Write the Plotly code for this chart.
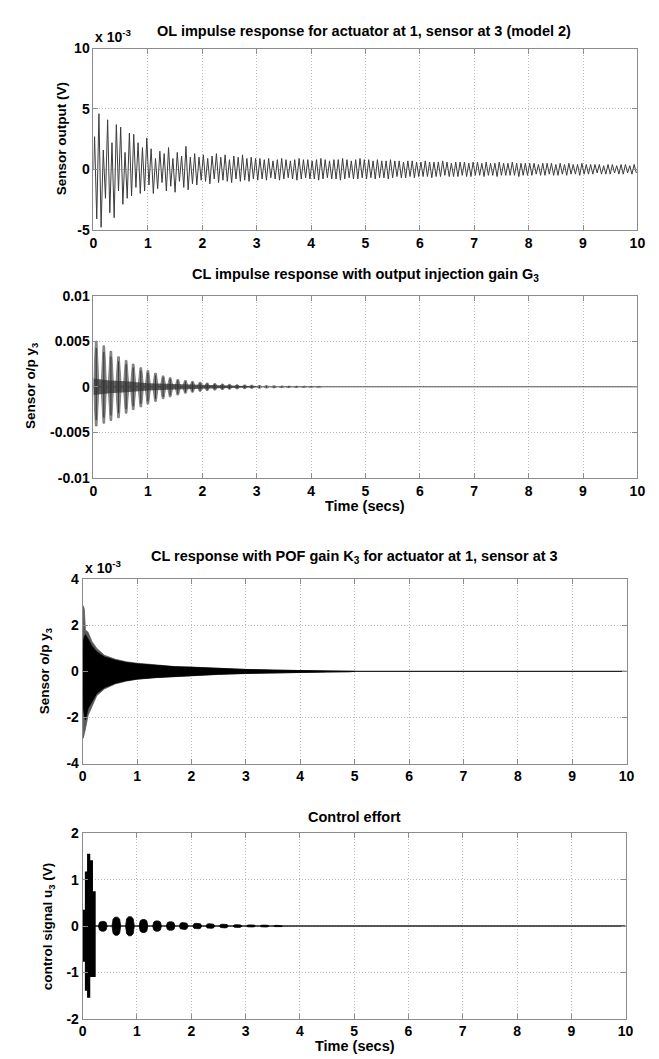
import numpy as np
import plotly.graph_objects as go

W, H = 659, 1059

# ---------------- data ----------------
# Plot 1: OL impulse response, alternating peaks (units of 1e-3 V), one pair every 0.08 s
ol_up = [2.7, 4.6, 1.6, 4.1, 2.2, 3.7, 3.5, 1.4, 3.0, 2.9, 2.2, 1.8, 2.6,
         1.7, 0.9, 1.5, 1.3, 1.8, 0.9, 1.4, 1.1, 1.9, 1.0, 1.3, 1.0,
         1.2, 0.9, 1.1, 1.3, 1.0, 1.2, 0.8, 1.1, 1.0, 1.2, 0.9, 1.0, 0.9,
         0.9, 0.8, 0.9, 0.7, 0.8, 0.9, 0.8, 0.7, 0.8, 0.9, 0.8, 0.8, 0.7, 0.8, 0.9, 0.8, 0.7, 0.8, 0.8, 0.9, 0.8, 0.7, 0.8, 0.9, 0.8,
         0.8, 0.7, 0.8, 0.7, 0.7, 0.8, 0.7, 0.7, 0.6, 0.7, 0.7, 0.6,
         0.6, 0.7, 0.6, 0.6, 0.6, 0.7, 0.6, 0.5, 0.6, 0.6, 0.6, 0.5, 0.6,
         0.6, 0.5, 0.6, 0.5, 0.5, 0.6, 0.5, 0.5, 0.6, 0.5, 0.5, 0.5,
         0.5, 0.5, 0.4, 0.5, 0.5, 0.5, 0.4, 0.5, 0.4, 0.5, 0.4, 0.4, 0.5,
         0.4, 0.4, 0.4, 0.4, 0.3, 0.4, 0.4, 0.3, 0.4, 0.4, 0.3, 0.4]
ol_dn = [-4.1, -4.8, -2.4, -3.6, -4.0, -1.8, -2.9, -2.4, -2.2, -1.5, -2.0, -1.8, -1.3,
         -2.0, -1.6, -1.1, -1.8, -1.4, -1.9, -1.0, -1.5, -1.7, -1.2, -1.3, -0.9,
         -1.0, -1.2, -0.8, -1.1, -0.9, -1.0, -1.1, -0.8, -1.0, -0.9, -1.0, -0.8, -0.9,
         -0.8, -0.9, -0.7, -0.8, -0.9, -0.8, -0.7, -0.8, -0.9, -0.8, -0.7, -0.8, -0.8, -0.9, -0.8, -0.7, -0.8, -0.8, -0.9, -0.8, -0.7, -0.8, -0.8, -0.7, -0.8,
         -0.7, -0.8, -0.7, -0.7, -0.8, -0.7, -0.6, -0.7, -0.7, -0.6, -0.7, -0.6,
         -0.6, -0.6, -0.7, -0.6, -0.6, -0.5, -0.6, -0.6, -0.6, -0.5, -0.6, -0.6, -0.5,
         -0.5, -0.6, -0.5, -0.5, -0.6, -0.5, -0.5, -0.5, -0.5, -0.6, -0.5, -0.5,
         -0.5, -0.4, -0.5, -0.5, -0.4, -0.5, -0.5, -0.4, -0.5, -0.4, -0.4, -0.5, -0.4,
         -0.4, -0.4, -0.3, -0.4, -0.4, -0.4, -0.3, -0.4, -0.4, -0.3, -0.4, -0.3]
ol_step = 0.08

# Plot 2: CL impulse response with output injection - beat lobes (V)
cl_lobe_t = [0.05, 0.19, 0.32, 0.46, 0.60, 0.73, 0.87, 1.00, 1.14, 1.28, 1.41, 1.55,
             1.69, 1.82, 1.96, 2.09, 2.23, 2.37, 2.50, 2.64, 2.78, 2.91, 3.05, 3.18,
             3.32, 3.46, 3.59, 3.73, 3.87, 4.00, 4.14]
cl_lobe_up = [0.0050, 0.0045, 0.0039, 0.0033, 0.0029, 0.0025, 0.0021, 0.0018, 0.0015,
              0.0012, 0.0010, 0.0008, 0.0007, 0.0006, 0.0005, 0.00042, 0.00036, 0.00031,
              0.00027, 0.00023, 0.0002, 0.00017, 0.00015, 0.00013, 0.00011, 0.0001,
              0.00009, 0.00008, 0.00007, 0.00006, 0.00005]
cl_lobe_dn = [-0.0043, -0.0040, -0.0037, -0.0034, -0.0029, -0.0025, -0.0022, -0.0019,
              -0.0016, -0.0013, -0.0011, -0.0009, -0.0007, -0.0006, -0.0005, -0.00042,
              -0.00036, -0.00031, -0.00027, -0.00023, -0.0002, -0.00017, -0.00015,
              -0.00013, -0.00011, -0.0001, -0.00009, -0.00008, -0.00007, -0.00006, -0.00005]
cl_core_t = [0.0, 0.3, 0.6, 1.0, 1.5, 2.0, 2.5, 3.0]
cl_core_amp = [0.0009, 0.0007, 0.0006, 0.0004, 0.0003, 0.0002, 0.0001, 0.00005]

# Plot 3: CL response with POF gain - envelopes (units of 1e-3 V)
pof_t = [0.0, 0.01, 0.03, 0.05, 0.1, 0.17, 0.26, 0.4, 0.6, 0.8, 1.0, 1.35, 1.7, 2.0,
         2.5, 3.0, 3.5, 4.0, 4.5, 4.9, 5.0]
pof_up_outer = [0.0, 2.85, 2.7, 1.8, 1.7, 1.3, 1.0, 0.7, 0.53, 0.42, 0.36, 0.27, 0.21,
                0.19, 0.13, 0.09, 0.06, 0.04, 0.025, 0.012, 0.0]
pof_dn_outer = [0.0, -2.9, -2.7, -2.5, -1.9, -1.55, -1.05, -0.76, -0.54, -0.42, -0.34,
                -0.27, -0.21, -0.19, -0.13, -0.09, -0.06, -0.04, -0.025, -0.012, 0.0]
pof_up_inner = [0.0, 1.3, 1.5, 1.6, 1.4, 1.1, 0.85, 0.63, 0.49, 0.39, 0.33, 0.26, 0.2,
                0.18, 0.12, 0.085, 0.058, 0.038, 0.022, 0.011, 0.0]
pof_dn_inner = [0.0, -1.5, -1.9, -2.1, -1.6, -1.3, -0.95, -0.7, -0.51, -0.4, -0.33,
                -0.26, -0.2, -0.18, -0.12, -0.085, -0.058, -0.038, -0.022, -0.011, 0.0]

# Plot 4: control effort (V)
u_spike_t = [0.02, 0.035, 0.07, 0.11, 0.16, 0.21]
u_spike_up = [0.35, 0.1, 1.18, 1.56, 1.42, 0.75]
u_spike_dn = [-0.2, -0.77, -1.4, -1.55, -1.1, -1.1]
u_lobe_t = [0.37, 0.62, 0.87, 1.12, 1.37, 1.62, 1.86, 2.11, 2.35, 2.60, 2.85, 3.10, 3.35, 3.60]
u_lobe_up = [0.10, 0.19, 0.20, 0.14, 0.11, 0.09, 0.075, 0.06, 0.05, 0.04, 0.03, 0.025, 0.02, 0.015]
u_lobe_dn = [-0.11, -0.20, -0.21, -0.14, -0.11, -0.09, -0.075, -0.06, -0.05, -0.04, -0.03, -0.02, -0.02, -0.015]

x_ticks = list(range(0, 11))

# ---------------- helpers ----------------
def fx(p):
    return p / W

def fy(p):
    return 1 - p / H

fig = go.Figure()

# Plot 1 zigzag
xs, ys = [0.0], [0.0]
for k, (u, d) in enumerate(zip(ol_up, ol_dn)):
    t0 = k * ol_step
    xs += [t0 + ol_step * 0.25, t0 + ol_step * 0.75]
    ys += [u, d]
fig.add_trace(go.Scatter(x=xs, y=ys, mode="lines", line=dict(color="#3c3c3c", width=1),
                         xaxis="x", yaxis="y", hoverinfo="skip"))

# Plot 2: zero line, core band, lobes
fig.add_trace(go.Scatter(x=[0, 10], y=[0, 0], mode="lines", line=dict(color="#555", width=1),
                         xaxis="x2", yaxis="y2", hoverinfo="skip"))
lx, ly, sx, sy = [], [], [], []
hw = 0.05
for t, u, d in zip(cl_lobe_t, cl_lobe_up, cl_lobe_dn):
    lx += [t - hw, t - 0.3 * hw, t + 0.3 * hw, t + hw, t + 0.3 * hw, t - 0.3 * hw, t - hw, None]
    ly += [0, u, u, 0, d, d, 0, None]
    sx += [t, t, None]
    sy += [u * 0.85, d * 0.85, None]
fig.add_trace(go.Scatter(x=lx, y=ly, fill="toself", fillcolor="#8e8e8e", mode="lines",
                         line=dict(color="#707070", width=0.8), xaxis="x2", yaxis="y2",
                         hoverinfo="skip"))
fig.add_trace(go.Scatter(x=sx, y=sy, mode="lines", line=dict(color="#3a3a3a", width=1.2),
                         xaxis="x2", yaxis="y2", hoverinfo="skip"))
fig.add_trace(go.Scatter(x=cl_core_t + cl_core_t[::-1],
                         y=cl_core_amp + [-a for a in cl_core_amp[::-1]],
                         fill="toself", fillcolor="rgba(50,50,50,0.75)", line=dict(width=0),
                         mode="lines", xaxis="x2", yaxis="y2", hoverinfo="skip"))

# Plot 3: zero line and bands
fig.add_trace(go.Scatter(x=[0, 10], y=[0, 0], mode="lines", line=dict(color="#222", width=1.2),
                         xaxis="x3", yaxis="y3", hoverinfo="skip"))
fig.add_trace(go.Scatter(x=pof_t + pof_t[::-1], y=pof_up_outer + pof_dn_outer[::-1],
                         fill="toself", fillcolor="#5a5a5a", line=dict(color="#5a5a5a", width=0.8),
                         mode="lines", xaxis="x3", yaxis="y3", hoverinfo="skip"))
fig.add_trace(go.Scatter(x=pof_t + pof_t[::-1], y=pof_up_inner + pof_dn_inner[::-1],
                         fill="toself", fillcolor="#000", line=dict(color="#000", width=0.8),
                         mode="lines", xaxis="x3", yaxis="y3", hoverinfo="skip"))

# Plot 4: zero line, spikes, lobes
fig.add_trace(go.Scatter(x=[0, 10], y=[0, 0], mode="lines", line=dict(color="#222", width=1.6),
                         xaxis="x4", yaxis="y4", hoverinfo="skip"))
px_, py_ = [], []
for t, u, d in zip(u_spike_t, u_spike_up, u_spike_dn):
    px_ += [t, t, None]
    py_ += [d, u, None]
fig.add_trace(go.Scatter(x=px_, y=py_, mode="lines", line=dict(color="#000", width=3.2),
                         xaxis="x4", yaxis="y4", hoverinfo="skip"))
bx, by = [], []
w4 = 0.08
for t, u, d in zip(u_lobe_t, u_lobe_up, u_lobe_dn):
    bx += [t - w4, t - 0.75 * w4, t - 0.3 * w4, t + 0.3 * w4, t + 0.75 * w4, t + w4,
           t + 0.75 * w4, t + 0.3 * w4, t - 0.3 * w4, t - 0.75 * w4, t - w4, None]
    by += [0, u * 0.8, u, u, u * 0.8, 0, d * 0.8, d, d, d * 0.8, 0, None]
fig.add_trace(go.Scatter(x=bx, y=by, fill="toself", fillcolor="#000", mode="lines",
                         line=dict(color="#000", width=0.8), xaxis="x4", yaxis="y4",
                         hoverinfo="skip"))

# ---------------- axes ----------------
boxes = [  # left, right, top, bottom (pixels)
    (83, 637, 33, 217),
    (83, 637, 284, 469),
    (72, 626, 572, 759),
    (72, 625, 830, 1018),
]
y_specs = [
    dict(range=[-5, 10], tickvals=[-5, 0, 5, 10], ticktext=["-5", "0", "5", "10"]),
    dict(range=[-0.01, 0.01], tickvals=[-0.01, -0.005, 0, 0.005, 0.01],
         ticktext=["-0.01", "-0.005", "0", "0.005", "0.01"]),
    dict(range=[-4, 4], tickvals=[-4, -2, 0, 2, 4], ticktext=["-4", "-2", "0", "2", "4"]),
    dict(range=[-2, 2], tickvals=[-2, -1, 0, 1, 2], ticktext=["-2", "-1", "0", "1", "2"]),
]
axis_common = dict(showline=True, linecolor="#8c8c8c", linewidth=1, mirror="ticks",
                   ticks="inside", ticklen=5, tickcolor="#8c8c8c", showgrid=True,
                   gridcolor="#b8b8b8", griddash="1px,2px", gridwidth=1, zeroline=False,
                   tickfont=dict(size=14, color="#000", family="Liberation Sans, Arial",
                                 weight="bold"))
layout_axes = {}
for i, ((l, r, t, b), ys_) in enumerate(zip(boxes, y_specs)):
    sfx = "" if i == 0 else str(i + 1)
    layout_axes["xaxis" + sfx] = dict(domain=[fx(l), fx(r)], anchor="y" + sfx, range=[0, 10],
                                      tickvals=x_ticks, ticktext=[str(v) for v in x_ticks],
                                      **axis_common)
    layout_axes["yaxis" + sfx] = dict(domain=[fy(b), fy(t)], anchor="x" + sfx, **ys_,
                                      **axis_common)

fnt = dict(size=13, color="#000", family="Liberation Sans, Arial", weight="bold")

def ann(text, x, y, angle=0, xanchor="center", size=13.5):
    f = dict(fnt)
    f["size"] = size
    return dict(text=text, x=fx(x), y=fy(y), xref="paper", yref="paper", showarrow=False,
                textangle=angle, xanchor=xanchor, yanchor="middle", font=f)

annotations = [
    ann("OL impulse response for actuator at 1, sensor at 3 (model 2)", 359, 15, size=14.5),
    ann("x 10<sup>-3</sup>", 83, 20, xanchor="left", size=14),
    ann("Sensor output (V)", 50, 125, angle=-90),
    ann("CL impulse response with output injection gain G<sub>3</sub>", 360, 263, size=14.5),
    ann("Sensor o/p y<sub>3</sub>", 20, 376, angle=-90),
    ann("Time (secs)", 360, 498, size=14.5),
    ann("CL response with POF gain K<sub>3</sub> for actuator at 1, sensor at 3", 349, 549, size=14.5),
    ann("x 10<sup>-3</sup>", 72, 559, xanchor="left", size=14),
    ann("Sensor o/p y<sub>3</sub>", 35, 665, angle=-90),
    ann("Control effort", 349, 813, size=14.5),
    ann("control signal u<sub>3</sub> (V)", 37, 924, angle=-90),
    ann("Time (secs)", 349, 1046, size=14.5),
]

fig.update_layout(width=W, height=H, margin=dict(l=0, r=0, t=0, b=0),
                  paper_bgcolor="white", plot_bgcolor="white", showlegend=False,
                  annotations=annotations, **layout_axes)

fig.write_html("out.html")
